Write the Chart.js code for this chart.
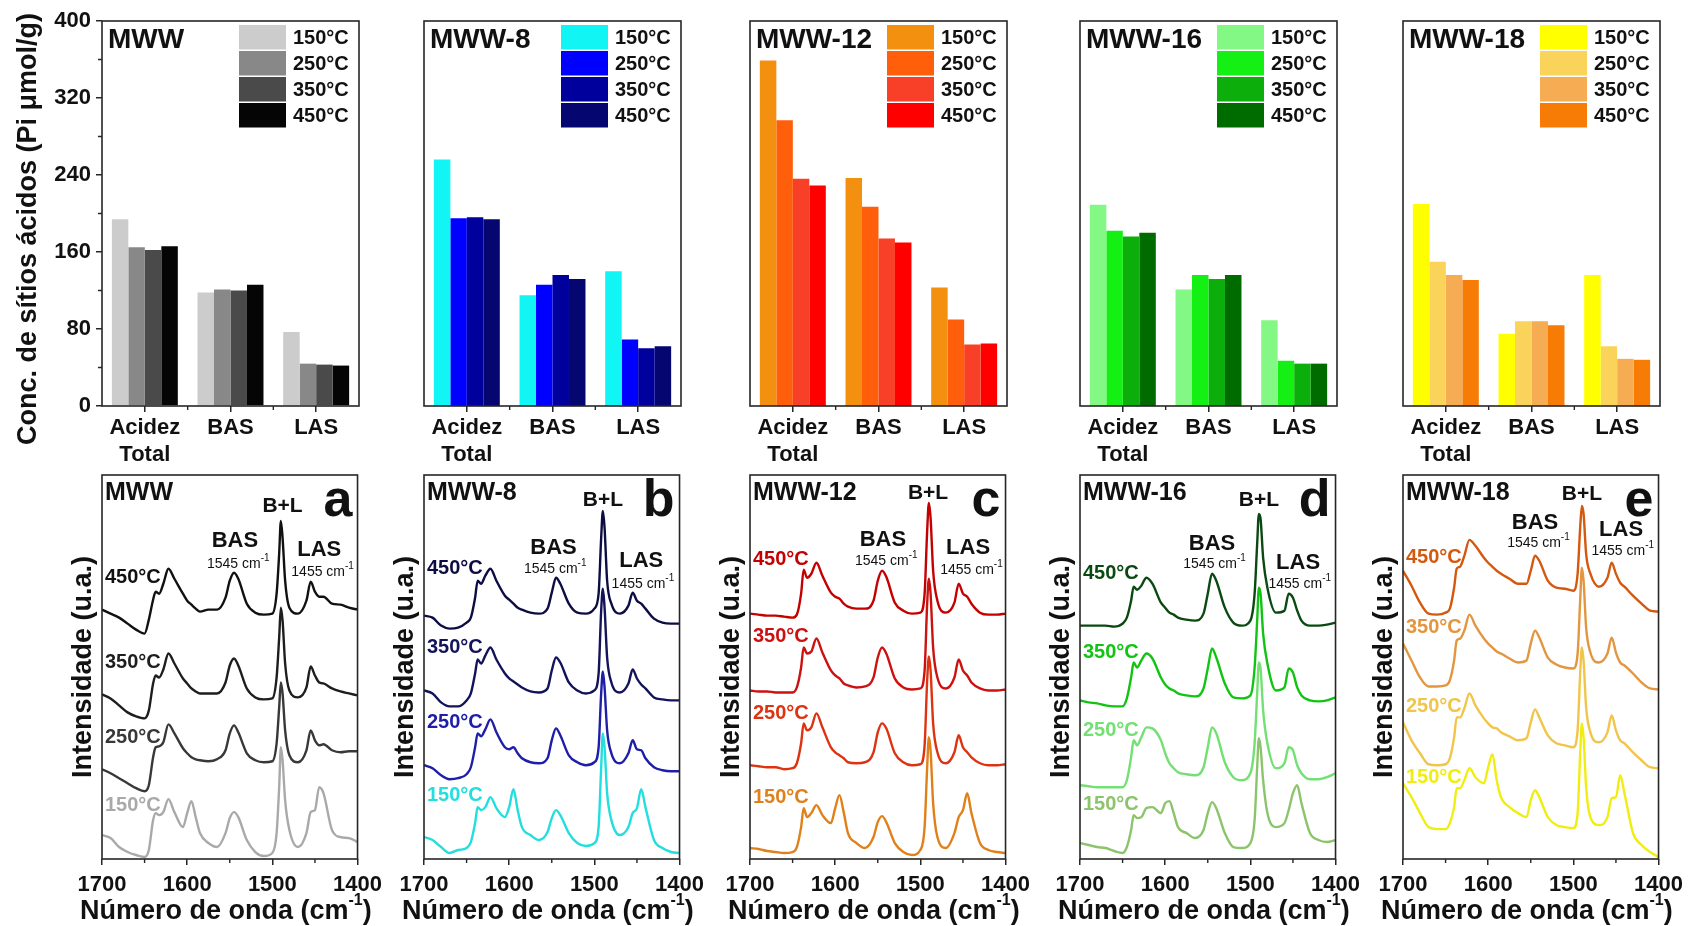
<!DOCTYPE html>
<html>
<head>
<meta charset="utf-8">
<script src="https://cdn.jsdelivr.net/npm/chart.js@4.4.1/dist/chart.umd.min.js"></script>
<style>
html,body{margin:0;padding:0;background:#ffffff;width:1688px;height:926px;overflow:hidden;position:relative;}
canvas{position:absolute;}
</style>
</head>
<body>
<script>
// ---------------- DATA ----------------
const sampleNames = ['MWW', 'MWW-8', 'MWW-12', 'MWW-16', 'MWW-18'];
const panelLetters = ['a', 'b', 'c', 'd', 'e'];
const temperatures = ['150°C', '250°C', '350°C', '450°C'];
const categories = [['Acidez', 'Total'], 'BAS', 'LAS'];
const yTicksTop = [0, 80, 160, 240, 320, 400];
const xTicksBottom = [1700, 1600, 1500, 1400];

// acid site concentration (Pi µmol/g): [Acidez Total, BAS, LAS]
const mww150 = [194, 118, 77];
const mww250 = [165, 121, 44];
const mww350 = [162, 120, 43];
const mww450 = [166, 126, 42];
const mww8_150 = [256, 115, 140];
const mww8_250 = [195, 126, 69];
const mww8_350 = [196, 136, 60];
const mww8_450 = [194, 132, 62];
const mww12_150 = [359, 237, 123];
const mww12_250 = [297, 207, 90];
const mww12_350 = [236, 174, 64];
const mww12_450 = [229, 170, 65];
const mww16_150 = [209, 121, 89];
const mww16_250 = [182, 136, 47];
const mww16_350 = [176, 132, 44];
const mww16_450 = [180, 136, 44];
const mww18_150 = [210, 75, 136];
const mww18_250 = [150, 88, 62];
const mww18_350 = [136, 88, 49];
const mww18_450 = [131, 84, 48];

// IR spectra (pyridine), wavenumber grid (cm-1) and intensities (u.a., stacked)
const wavenumbers = [1700,1690,1680,1670,1660,1650,1645,1640,1637,1633,1628,1622,1615,1605,1600,1595,1590,1585,1575,1565,1555,1550,1545,1540,1530,1520,1510,1500,1495,1492,1490,1488,1485,1480,1470,1460,1455,1450,1445,1440,1430,1420,1410,1400];

const specA150 = [24,21,12,7,4,2,9,39,46,44,47,60,47,32,46,58,42,26,16,12,26,41,47,42,19,7,3,6,26,72,112,99,59,29,12,26,47,49,72,66,29,22,21,17];
const specA250 = [90,86,81,76,71,68,74,102,112,113,117,135,126,111,106,102,100,99,98,100,109,126,134,127,106,99,97,98,116,152,177,166,129,104,97,109,129,119,114,115,109,107,108,108];
const specA350 = [165,161,154,147,143,141,149,176,184,182,190,206,196,181,176,171,168,166,166,166,177,194,201,194,171,162,160,161,182,222,252,239,196,169,162,172,193,184,177,176,171,168,166,164];
const specA450 = [250,246,242,236,230,226,240,260,268,266,276,291,281,266,259,255,251,248,250,250,262,279,287,281,256,247,245,246,266,306,339,322,279,252,246,259,278,268,263,263,256,255,252,250];

const specB150 = [22,19,12,6,9,11,17,36,52,49,52,62,51,42,52,70,49,32,24,19,27,41,49,44,26,16,13,16,32,92,126,112,66,39,24,32,46,51,70,52,19,11,7,6];
const specB250 = [94,91,84,80,81,85,92,112,126,123,130,140,127,112,110,112,106,101,97,96,101,119,131,124,104,97,94,97,112,166,188,172,129,106,96,106,119,110,109,101,92,89,88,88];
const specB350 = [169,166,157,153,153,159,166,186,200,196,204,212,200,186,181,178,175,172,168,167,171,189,202,197,177,169,166,169,186,249,271,252,202,177,167,176,190,181,175,171,162,160,159,159];
const specB450 = [244,242,234,231,232,237,242,262,279,276,284,291,279,264,260,256,252,250,247,246,251,267,282,276,256,247,246,251,266,322,349,332,279,256,246,254,267,259,256,251,241,237,236,236];

const specC150 = [11,10,8,7,6,7,12,32,51,42,46,54,44,36,51,64,47,26,16,11,22,37,43,37,16,7,4,9,32,92,122,109,56,22,11,26,42,49,66,46,16,9,7,6];
const specC250 = [94,93,92,92,90,91,96,116,136,129,132,146,132,112,107,104,101,97,96,97,107,127,136,131,106,97,94,95,114,179,203,189,136,107,96,107,124,112,107,102,96,94,94,95];
const specC350 = [169,168,168,167,167,167,172,192,212,206,208,221,207,189,184,181,176,174,172,173,182,202,212,206,181,172,170,171,189,256,281,266,212,182,171,182,200,189,184,177,171,169,169,170];
const specC450 = [246,245,244,244,243,242,245,266,290,282,286,297,284,267,263,261,256,253,251,251,259,279,289,283,257,249,246,247,266,329,357,342,289,259,247,257,276,266,263,256,247,245,245,246];

const specD150 = [16,14,12,11,8,6,12,29,44,41,42,51,52,46,56,58,46,32,26,21,29,46,57,51,26,12,11,16,39,92,121,112,79,46,32,36,49,66,74,56,26,19,17,19];
const specD250 = [74,73,72,72,72,72,79,102,119,114,122,132,131,119,106,96,91,87,85,84,92,112,132,126,97,82,79,86,116,166,197,191,149,116,91,96,112,109,94,86,80,80,82,86];
const specD350 = [159,157,156,154,153,153,161,182,197,192,199,206,201,182,175,171,169,166,164,163,171,191,211,202,176,162,161,164,192,239,272,266,226,196,169,172,191,187,172,164,159,158,159,162];
const specD450 = [234,234,234,234,233,236,242,259,273,270,274,282,276,257,252,247,245,242,240,239,246,266,286,279,252,237,234,239,266,316,346,341,302,272,247,249,266,262,249,239,234,234,235,237];

const specE150 = [76,62,46,32,30,30,36,52,71,71,79,91,82,76,92,105,79,62,52,46,42,59,69,62,42,34,32,31,46,106,136,122,72,42,34,42,61,62,84,66,26,14,7,2];
const specE250 = [137,119,106,95,94,95,101,122,142,142,151,166,154,141,136,132,131,127,123,119,121,137,150,142,124,116,114,112,129,186,212,199,152,127,117,127,144,129,119,116,107,99,92,91];
const specE350 = [216,199,182,173,173,174,179,199,219,221,229,245,234,221,216,212,208,206,201,197,199,216,229,222,202,195,192,191,206,259,292,279,232,207,197,206,222,207,197,194,186,177,171,170];
const specE450 = [289,274,257,246,245,247,251,272,291,293,304,320,314,302,297,293,289,286,281,276,276,289,304,299,279,272,271,269,286,332,354,346,306,286,273,282,297,286,277,273,264,256,249,248];

// ---------------- GROUPING & STYLE ----------------
const barSets = [
  [mww150, mww250, mww350, mww450],
  [mww8_150, mww8_250, mww8_350, mww8_450],
  [mww12_150, mww12_250, mww12_350, mww12_450],
  [mww16_150, mww16_250, mww16_350, mww16_450],
  [mww18_150, mww18_250, mww18_350, mww18_450]
];
const specSets = [
  [specA150, specA250, specA350, specA450],
  [specB150, specB250, specB350, specB450],
  [specC150, specC250, specC350, specC450],
  [specD150, specD250, specD350, specD450],
  [specE150, specE250, specE350, specE450]
];
const barColors = [
  ['#cccccc', '#888888', '#4a4a4a', '#050505'],
  ['#11f5f5', '#0000ff', '#00009c', '#060670'],
  ['#f39010', '#ff5e0a', '#f84028', '#ff0000'],
  ['#84f884', '#14f014', '#0cae0c', '#006c00'],
  ['#ffff00', '#fad45a', '#f5ac52', '#f77c06']
];
const lineColors = [
  ['#a9a9a9', '#383838', '#1e1e1e', '#111111'],
  ['#22dede', '#1e1ea8', '#13135a', '#0d0d45'],
  ['#e0801a', '#dd3311', '#cc1111', '#c40000'],
  ['#8cc46c', '#72e072', '#12c412', '#0a4a12'],
  ['#f0ee10', '#f1c44a', '#e39640', '#d4580e']
];
// annotation anchors in data coordinates [wavenumber, intensity]
const noteAnchors = [
  {bl:[1488,354], bas:[1544,319], basNum:[1540,296], las:[1445,310], lasNum:[1441,288], temps:[54,122,197,282]},
  {bl:[1490,360], bas:[1548,312], basNum:[1546,291], las:[1445,299], lasNum:[1443,276], temps:[64,137,212,291]},
  {bl:[1491,367], bas:[1544,320], basNum:[1540,299], las:[1444,312], lasNum:[1440,290], temps:[62,146,223,300]},
  {bl:[1490,360], bas:[1545,316], basNum:[1542,296], las:[1444,297], lasNum:[1442,276], temps:[55,129,207,286]},
  {bl:[1490,366], bas:[1545,337], basNum:[1541,317], las:[1444,330], lasNum:[1442,309], temps:[82,153,232,302]}
];

const FONT = '"Liberation Sans", Arial, Helvetica, sans-serif';
Chart.defaults.font.family = FONT;
Chart.defaults.font.weight = 'bold';
Chart.defaults.color = '#111111';
Chart.defaults.animation = false;

const plotLefts = [102, 424, 750, 1080, 1403];
const plotW = 257;
const AXIS = '#262626';

function txt(ctx, s, x, y, font, color, align, baseline) {
  ctx.font = font; ctx.fillStyle = color; ctx.textAlign = align || 'left';
  ctx.textBaseline = baseline || 'middle'; ctx.fillText(s, x, y);
}
function supTxt(ctx, s, sup, tail, x, y, size, supSize, color, weight) {
  const w = weight ? weight + ' ' : '';
  const f1 = w + size + 'px ' + FONT, f2 = w + supSize + 'px ' + FONT;
  ctx.font = f1; const w1 = ctx.measureText(s).width; const w3 = ctx.measureText(tail).width;
  ctx.font = f2; const w2 = ctx.measureText(sup).width;
  const x0 = x - (w1 + w2 + w3) / 2;
  txt(ctx, s, x0, y, f1, color, 'left');
  txt(ctx, sup, x0 + w1, y - size * 0.42, f2, color, 'left');
  if (tail) txt(ctx, tail, x0 + w1 + w2, y, f1, color, 'left');
}

const decor = {
  id: 'decor',
  afterDraw(chart, args, o) {
    const {ctx, chartArea: a, scales} = chart;
    ctx.save();
    ctx.strokeStyle = AXIS; ctx.lineWidth = 1.6;
    ctx.strokeRect(a.left, a.top, a.right - a.left, a.bottom - a.top);
    ctx.lineWidth = 1.4;
    ctx.beginPath();
    if (o.kind === 'bar') {
      const n = chart.data.labels.length;
      for (let i = 1; i < n; i++) {
        const px = a.left + i * (a.right - a.left) / n;
        ctx.moveTo(px, a.bottom); ctx.lineTo(px, a.bottom + 4);
      }
    }
    (o.minorX || []).forEach(v => { const px = scales.x.getPixelForValue(v); ctx.moveTo(px, a.bottom); ctx.lineTo(px, a.bottom + 4); });
    (o.minorY || []).forEach(v => { const py = scales.y.getPixelForValue(v); ctx.moveTo(a.left - 4, py); ctx.lineTo(a.left, py); });
    ctx.stroke();

    // panel title
    txt(ctx, o.title, a.left + o.titleDx, a.top + o.titleDy, 'bold ' + o.titleSize + 'px ' + FONT, '#111111', 'left');

    if (o.kind === 'bar') {
      const ds = chart.data.datasets;
      const bx = a.right - 120, bw = 47, bh = 26;
      ds.forEach((d, k) => {
        const by = a.top + 4 + k * bh;
        ctx.fillStyle = d.backgroundColor;
        ctx.fillRect(bx, by, bw, bh - 1.5);
        txt(ctx, d.label, a.right - 66, by + bh / 2, 'bold 20px ' + FONT, '#111111', 'left');
      });
      if (o.yTitle) {
        ctx.save();
        ctx.translate(a.left - 73, a.top + 208);
        ctx.rotate(-Math.PI / 2);
        txt(ctx, o.yTitle, 0, 0, 'bold 27px ' + FONT, '#111111', 'center');
        ctx.restore();
      }
    } else {
      const n = o.notes;
      const X = v => scales.x.getPixelForValue(v), Y = v => scales.y.getPixelForValue(v);
      txt(ctx, o.letter, a.right - 5, a.top + 41, 'bold 52px ' + FONT, '#111111', 'right', 'alphabetic');
      txt(ctx, 'B+L', X(n.bl[0]), Y(n.bl[1]), 'bold 21px ' + FONT, '#111111', 'center');
      txt(ctx, 'BAS', X(n.bas[0]), Y(n.bas[1]), 'bold 22px ' + FONT, '#111111', 'center');
      supTxt(ctx, '1545 cm', '-1', '', X(n.basNum[0]), Y(n.basNum[1]), 14, 10, '#111111', '');
      txt(ctx, 'LAS', X(n.las[0]), Y(n.las[1]), 'bold 22px ' + FONT, '#111111', 'center');
      supTxt(ctx, '1455 cm', '-1', '', X(n.lasNum[0]), Y(n.lasNum[1]), 14, 10, '#111111', '');
      chart.data.datasets.forEach((d, k) => {
        txt(ctx, d.label, a.left + 3, Y(n.temps[k]), 'bold 20px ' + FONT, d.borderColor, 'left');
      });
      // x-axis title with superscript
      supTxt(ctx, 'Número de onda (cm', '-1', ')', (a.left + a.right) / 2 - 4, a.bottom + 53, 27, 16, '#111111', 'bold');
    }
    ctx.restore();
  }
};

function makeCanvas(left, top, w, h) {
  const c = document.createElement('canvas');
  c.width = w; c.height = h;
  c.style.left = left + 'px'; c.style.top = top + 'px';
  c.style.width = w + 'px'; c.style.height = h + 'px';
  document.body.appendChild(c);
  return c;
}

// ---------------- BAR CHARTS (top row) ----------------
sampleNames.forEach((name, i) => {
  const L = plotLefts[i];
  const cv = makeCanvas(L - 100, 0, 100 + plotW + 30, 470);
  new Chart(cv, {
    type: 'bar',
    data: {
      labels: categories,
      datasets: temperatures.map((t, k) => ({
        label: t, data: barSets[i][k], backgroundColor: barColors[i][k], borderWidth: 0
      }))
    },
    options: {
      responsive: false, animation: false, devicePixelRatio: 1,
      layout: {padding: {left: i === 0 ? 10 : 100, right: 30, top: 21, bottom: 0}},
      datasets: {bar: {categoryPercentage: 0.77, barPercentage: 1.0}},
      plugins: {
        legend: {display: false}, tooltip: {enabled: false},
        decor: {
          kind: 'bar', title: name, titleDx: 6, titleDy: 19, titleSize: 28,
          minorY: i === 0 ? [40, 120, 200, 280, 360] : [],
          yTitle: i === 0 ? 'Conc. de sítios ácidos (Pi μmol/g)' : null
        }
      },
      scales: {
        x: {
          type: 'category', offset: true,
          border: {display: false},
          grid: {display: true, drawOnChartArea: false, drawTicks: true, tickLength: 6, offset: false, color: AXIS, lineWidth: 1.5},
          ticks: {font: {size: 22, weight: 'bold'}, color: '#111111', padding: 3, maxRotation: 0, autoSkip: false},
          afterFit: s => { s.height = 64; }
        },
        y: {
          display: i === 0, min: 0, max: 400,
          border: {display: false},
          grid: {drawOnChartArea: false, tickLength: 6, color: AXIS, lineWidth: 1.5},
          afterBuildTicks: s => { s.ticks = yTicksTop.map(v => ({value: v})); },
          ticks: {font: {size: 22, weight: 'bold'}, color: '#111111', padding: 5},
          afterFit: s => { s.width = (i === 0) ? 90 : 0; }
        }
      }
    },
    plugins: [decor]
  });
});

// ---------------- IR SPECTRA (bottom row) ----------------
sampleNames.forEach((name, i) => {
  const L = plotLefts[i];
  const cv = makeCanvas(L - 100, 460, 100 + plotW + 30, 470);
  new Chart(cv, {
    type: 'line',
    data: {
      datasets: temperatures.map((t, k) => ({
        label: t,
        data: wavenumbers.map((w, j) => ({x: w, y: specSets[i][k][j]})),
        borderColor: lineColors[i][k], backgroundColor: lineColors[i][k],
        borderWidth: 2.4, pointRadius: 0, fill: false,
        cubicInterpolationMode: 'monotone'
      }))
    },
    options: {
      responsive: false, animation: false, devicePixelRatio: 1,
      layout: {padding: {left: 61, right: 30, top: 15, bottom: 0}},
      plugins: {
        legend: {display: false}, tooltip: {enabled: false},
        decor: {
          kind: 'line', title: name, titleDx: 3, titleDy: 18, titleSize: 25,
          letter: panelLetters[i], notes: noteAnchors[i], minorX: [1650, 1550, 1450]
        }
      },
      scales: {
        x: {
          type: 'linear', reverse: true, min: 1400, max: 1700,
          border: {display: false},
          grid: {drawOnChartArea: false, tickLength: 6, color: AXIS, lineWidth: 1.5},
          afterBuildTicks: s => { s.ticks = xTicksBottom.map(v => ({value: v})); },
          ticks: {font: {size: 22, weight: 'bold'}, color: '#111111', padding: 7, maxRotation: 0, callback: v => String(v)},
          title: {display: false, text: 'Número de onda (cm-1)'},
          afterFit: s => { s.height = 71; }
        },
        y: {
          min: 0, max: 385,
          border: {display: false},
          grid: {display: false},
          ticks: {display: false},
          title: {display: true, text: 'Intensidade (u.a.)', font: {size: 27, weight: 'bold'}, color: '#111111', padding: {top: 4, bottom: 4}},
          afterFit: s => { s.width = 39; }
        }
      }
    },
    plugins: [decor]
  });
});
</script>
</body>
</html>
